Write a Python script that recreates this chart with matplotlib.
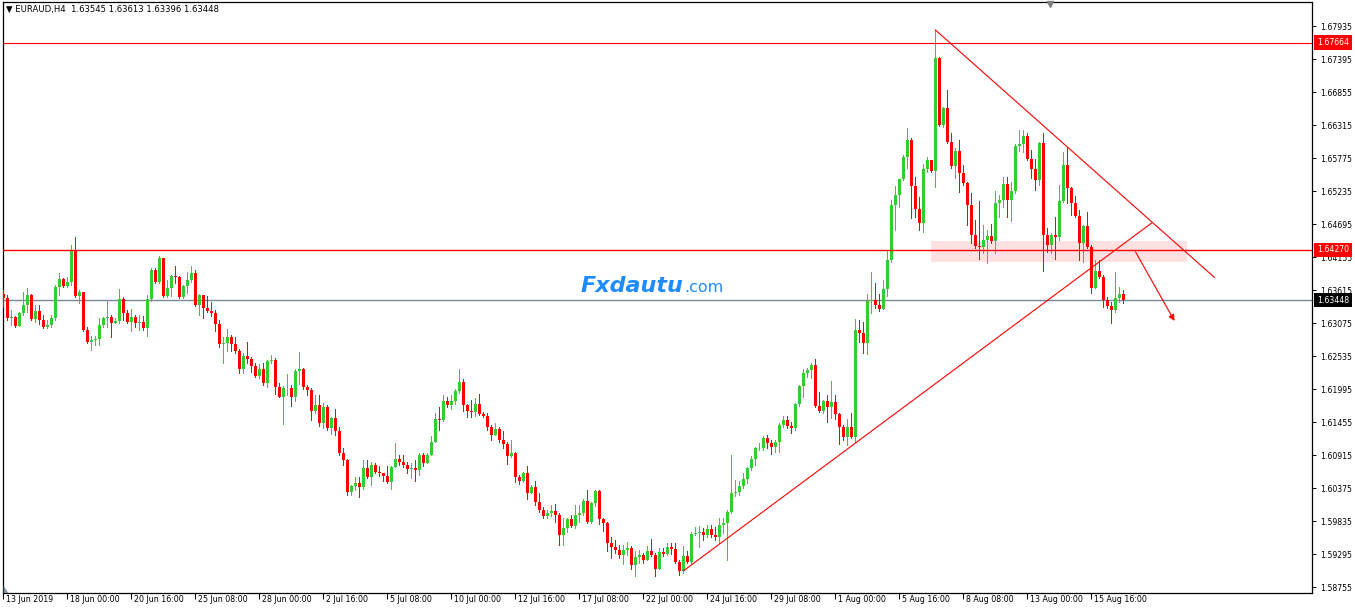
import numpy as np
import matplotlib
matplotlib.use("Agg")
import matplotlib.pyplot as plt
from matplotlib.patches import Rectangle, Polygon
import matplotlib.transforms as mtransforms

plt.rcParams['font.family'] = ['DejaVu Sans']

symbol = "EURAUD,H4"
last_ohlc = [1.63545, 1.63613, 1.63396, 1.63448]
first_open = 1.6355

close = [
    1.6348, 1.6316, 1.6317, 1.6302, 1.6324, 1.6337, 1.6353, 1.6314, 1.6327, 1.6312,
    1.6301, 1.6304, 1.6316, 1.6366, 1.6379, 1.6368, 1.6374, 1.6425, 1.6352, 1.6358,
    1.6296, 1.6276, 1.6280, 1.6281, 1.6304, 1.6316, 1.6317, 1.6307, 1.6311, 1.6347,
    1.6324, 1.6309, 1.6317, 1.6307, 1.6309, 1.6299, 1.6347, 1.6394, 1.6374, 1.6414,
    1.6352, 1.6365, 1.6384, 1.6383, 1.6350, 1.6368, 1.6378, 1.6389, 1.6337, 1.6353,
    1.6332, 1.6327, 1.6324, 1.6306, 1.6273, 1.6275, 1.6284, 1.6273, 1.6262, 1.6232,
    1.6253, 1.6249, 1.6237, 1.6221, 1.6232, 1.6209, 1.6245, 1.6247, 1.6203, 1.6186,
    1.6201, 1.6201, 1.6186, 1.6229, 1.6232, 1.6203, 1.6198, 1.6163, 1.6173, 1.6144,
    1.6170, 1.6136, 1.6152, 1.6131, 1.6095, 1.6083, 1.6031, 1.6041, 1.6046, 1.6039,
    1.6070, 1.6056, 1.6075, 1.6064, 1.6062, 1.6057, 1.6047, 1.6072, 1.6085, 1.6080,
    1.6075, 1.6068, 1.6070, 1.6067, 1.6091, 1.6078, 1.6091, 1.6113, 1.6151, 1.6149,
    1.6180, 1.6173, 1.6180, 1.6196, 1.6211, 1.6173, 1.6163, 1.6162, 1.6175, 1.6159,
    1.6155, 1.6137, 1.6124, 1.6134, 1.6116, 1.6109, 1.6090, 1.6095, 1.6056, 1.6049,
    1.6062, 1.6029, 1.6039, 1.6014, 1.6001, 1.5992, 1.5997, 1.6000, 1.5993, 1.5961,
    1.5972, 1.5987, 1.5975, 1.5993, 1.5997, 1.6016, 1.5982, 1.6013, 1.6032, 1.5987,
    1.5980, 1.5947, 1.5941, 1.5936, 1.5928, 1.5936, 1.5939, 1.5911, 1.5925, 1.5928,
    1.5920, 1.5934, 1.5928, 1.5905, 1.5933, 1.5929, 1.5941, 1.5937, 1.5916, 1.5902,
    1.5926, 1.5916, 1.5962, 1.5964, 1.5966, 1.5961, 1.5970, 1.5961, 1.5957, 1.5977,
    1.5980, 1.5998, 1.6029, 1.6031, 1.6041, 1.6052, 1.6070, 1.6085, 1.6103, 1.6103,
    1.6119, 1.6111, 1.6105, 1.6113, 1.6141, 1.6149, 1.6139, 1.6136, 1.6175, 1.6204,
    1.6226, 1.6230, 1.6239, 1.6172, 1.6163, 1.6180, 1.6170, 1.6178, 1.6159, 1.6137,
    1.6121, 1.6137, 1.6121, 1.6296, 1.6291, 1.6275, 1.6343, 1.6345, 1.6337, 1.6330,
    1.6363, 1.6410, 1.6500, 1.6517, 1.6543, 1.6579, 1.6607, 1.6531, 1.6494, 1.6471,
    1.6559, 1.6574, 1.6556, 1.6741, 1.6631, 1.6659, 1.6604, 1.6564, 1.6589, 1.6553,
    1.6536, 1.6500, 1.6451, 1.6433, 1.6432, 1.6443, 1.6450, 1.6442, 1.6504, 1.6509,
    1.6535, 1.6509, 1.6523, 1.6597, 1.6600, 1.6613, 1.6576, 1.6559, 1.6541, 1.6602,
    1.6451, 1.6435, 1.6451, 1.6448, 1.6507, 1.6566, 1.6528, 1.6504, 1.6482, 1.6438,
    1.6466, 1.6432, 1.6365, 1.6392, 1.6383, 1.6345, 1.6335, 1.6329, 1.6348, 1.63545,
    1.63448,
]

high = [
    1.6361, 1.6353, 1.6329, 1.6319, 1.6325, 1.6358, 1.6365, 1.6355, 1.6337, 1.6337,
    1.6320, 1.6312, 1.6320, 1.6370, 1.6389, 1.6381, 1.6383, 1.6435, 1.6448, 1.6361,
    1.6358, 1.6301, 1.6286, 1.6286, 1.6316, 1.6317, 1.6345, 1.6320, 1.6316, 1.6363,
    1.6350, 1.6329, 1.6330, 1.6320, 1.6320, 1.6319, 1.6353, 1.6397, 1.6397, 1.6417,
    1.6399, 1.6378, 1.6386, 1.6401, 1.6384, 1.6370, 1.6391, 1.6401, 1.6394, 1.6355,
    1.6353, 1.6352, 1.6342, 1.6329, 1.6312, 1.6284, 1.6298, 1.6288, 1.6284, 1.6265,
    1.6258, 1.6276, 1.6252, 1.6242, 1.6240, 1.6242, 1.6247, 1.6255, 1.6250, 1.6209,
    1.6204, 1.6224, 1.6206, 1.6232, 1.6260, 1.6234, 1.6206, 1.6201, 1.6190, 1.6190,
    1.6176, 1.6173, 1.6154, 1.6167, 1.6137, 1.6103, 1.6085, 1.6042, 1.6056, 1.6056,
    1.6083, 1.6083, 1.6080, 1.6078, 1.6073, 1.6062, 1.6073, 1.6073, 1.6111, 1.6091,
    1.6091, 1.6080, 1.6078, 1.6083, 1.6095, 1.6095, 1.6095, 1.6123, 1.6160, 1.6170,
    1.6190, 1.6186, 1.6190, 1.6199, 1.6232, 1.6216, 1.6175, 1.6181, 1.6185, 1.6191,
    1.6162, 1.6160, 1.6141, 1.6144, 1.6137, 1.6131, 1.6113, 1.6116, 1.6096, 1.6059,
    1.6064, 1.6073, 1.6042, 1.6049, 1.6029, 1.6007, 1.6001, 1.6010, 1.6011, 1.5997,
    1.5988, 1.5988, 1.5993, 1.6010, 1.6010, 1.6019, 1.6034, 1.6014, 1.6034, 1.6034,
    1.5988, 1.5982, 1.5957, 1.5952, 1.5944, 1.5944, 1.5949, 1.5942, 1.5934, 1.5936,
    1.5931, 1.5942, 1.5954, 1.5931, 1.5939, 1.5939, 1.5947, 1.5947, 1.5947, 1.5920,
    1.5942, 1.5934, 1.5966, 1.5974, 1.5975, 1.5972, 1.5977, 1.5977, 1.5974, 1.5988,
    1.5988, 1.6001, 1.6091, 1.6051, 1.6049, 1.6062, 1.6072, 1.6090, 1.6105, 1.6111,
    1.6123, 1.6124, 1.6116, 1.6116, 1.6144, 1.6155, 1.6155, 1.6146, 1.6176, 1.6206,
    1.6232, 1.6234, 1.6242, 1.6249, 1.6195, 1.6181, 1.6190, 1.6213, 1.6190, 1.6160,
    1.6141, 1.6151, 1.6160, 1.6314, 1.6312, 1.6309, 1.6355, 1.6391, 1.6373, 1.6355,
    1.6378, 1.6427, 1.6509, 1.6531, 1.6544, 1.6582, 1.6626, 1.6610, 1.6546, 1.6513,
    1.6567, 1.6580, 1.6564, 1.6787, 1.6743, 1.6661, 1.6689, 1.6618, 1.6594, 1.6607,
    1.6566, 1.6538, 1.6520, 1.6476, 1.6507, 1.6468, 1.6460, 1.6469, 1.6523, 1.6517,
    1.6546, 1.6546, 1.6538, 1.6600, 1.6623, 1.6623, 1.6618, 1.6590, 1.6576, 1.6604,
    1.6618, 1.6463, 1.6455, 1.6481, 1.6533, 1.6587, 1.6594, 1.6530, 1.6515, 1.6492,
    1.6468, 1.6489, 1.6435, 1.6410, 1.6410, 1.6386, 1.6350, 1.6342, 1.6391, 1.6366,
    1.63613,
]

low = [
    1.6334, 1.6312, 1.6304, 1.6301, 1.6302, 1.6320, 1.6325, 1.6312, 1.6309, 1.6306,
    1.6299, 1.6299, 1.6301, 1.6312, 1.6353, 1.6366, 1.6366, 1.6370, 1.6350, 1.6340,
    1.6294, 1.6275, 1.6263, 1.6271, 1.6271, 1.6301, 1.6301, 1.6284, 1.6307, 1.6307,
    1.6312, 1.6307, 1.6294, 1.6301, 1.6296, 1.6296, 1.6286, 1.6343, 1.6373, 1.6373,
    1.6350, 1.6350, 1.6352, 1.6373, 1.6348, 1.6348, 1.6357, 1.6374, 1.6335, 1.6320,
    1.6316, 1.6325, 1.6319, 1.6294, 1.6268, 1.6242, 1.6262, 1.6262, 1.6258, 1.6226,
    1.6226, 1.6242, 1.6227, 1.6219, 1.6218, 1.6206, 1.6203, 1.6242, 1.6191, 1.6186,
    1.6142, 1.6190, 1.6172, 1.6180, 1.6208, 1.6199, 1.6190, 1.6149, 1.6160, 1.6139,
    1.6136, 1.6132, 1.6126, 1.6124, 1.6091, 1.6075, 1.6026, 1.6026, 1.6034, 1.6023,
    1.6036, 1.6054, 1.6042, 1.6062, 1.6057, 1.6049, 1.6046, 1.6036, 1.6072, 1.6075,
    1.6072, 1.6062, 1.6054, 1.6049, 1.6059, 1.6073, 1.6080, 1.6091, 1.6113, 1.6132,
    1.6147, 1.6170, 1.6167, 1.6175, 1.6193, 1.6163, 1.6154, 1.6154, 1.6155, 1.6157,
    1.6154, 1.6132, 1.6116, 1.6124, 1.6113, 1.6103, 1.6077, 1.6088, 1.6047, 1.6044,
    1.6047, 1.6019, 1.6031, 1.6010, 1.5998, 1.5988, 1.5988, 1.5992, 1.5982, 1.5944,
    1.5944, 1.5966, 1.5974, 1.5972, 1.5982, 1.5993, 1.5980, 1.5980, 1.6008, 1.5979,
    1.5967, 1.5934, 1.5923, 1.5931, 1.5923, 1.5913, 1.5928, 1.5905, 1.5893, 1.5915,
    1.5915, 1.5920, 1.5926, 1.5893, 1.5905, 1.5926, 1.5928, 1.5929, 1.5915, 1.5895,
    1.5898, 1.5915, 1.5915, 1.5961, 1.5941, 1.5952, 1.5957, 1.5957, 1.5952, 1.5947,
    1.5964, 1.5920, 1.5997, 1.6024, 1.6026, 1.6037, 1.6046, 1.6067, 1.6075, 1.6100,
    1.6100, 1.6103, 1.6093, 1.6096, 1.6096, 1.6137, 1.6136, 1.6128, 1.6132, 1.6172,
    1.6186, 1.6219, 1.6218, 1.6170, 1.6162, 1.6160, 1.6146, 1.6152, 1.6151, 1.6109,
    1.6116, 1.6108, 1.6119, 1.6113, 1.6276, 1.6258, 1.6257, 1.6324, 1.6332, 1.6327,
    1.6332, 1.6352, 1.6407, 1.6459, 1.6497, 1.6541, 1.6562, 1.6479, 1.6481, 1.6460,
    1.6456, 1.6554, 1.6554, 1.6530, 1.6630, 1.6628, 1.6602, 1.6561, 1.6545, 1.6522,
    1.6533, 1.6468, 1.6438, 1.6430, 1.6412, 1.6422, 1.6405, 1.6438, 1.6422, 1.6481,
    1.6497, 1.6481, 1.6474, 1.6520, 1.6589, 1.6587, 1.6574, 1.6545, 1.6525, 1.6533,
    1.6392, 1.6424, 1.6422, 1.6412, 1.6443, 1.6505, 1.6504, 1.6484, 1.6481, 1.6410,
    1.6407, 1.6430, 1.6357, 1.6365, 1.6381, 1.6334, 1.6332, 1.6307, 1.6325, 1.6342,
    1.63396,
]

date_labels = ["13 Jun 2019", "18 Jun 00:00", "20 Jun 16:00", "25 Jun 08:00",
               "28 Jun 00:00", "2 Jul 16:00", "5 Jul 08:00", "10 Jul 00:00",
               "12 Jul 16:00", "17 Jul 08:00", "22 Jul 00:00", "24 Jul 16:00",
               "29 Jul 08:00", "1 Aug 00:00", "5 Aug 16:00", "8 Aug 08:00",
               "13 Aug 00:00", "15 Aug 16:00"]
date_bar_index = [0, 16, 32, 48, 64, 80, 96, 112, 128, 144, 160, 176, 192,
                  208, 224, 240, 256, 272]

price_ticks = [1.58755, 1.59295, 1.59835, 1.60375, 1.60915, 1.61455, 1.61995,
               1.62535, 1.63075, 1.63615, 1.64155, 1.64695, 1.65235, 1.65775,
               1.66315, 1.66855, 1.67395, 1.67935]

level_top = 1.67664
level_mid = 1.64270
bid_level = 1.63448
zone_bars = (232, 296)
zone_prices = (1.6407, 1.6442)
uptrend = [(170, 1.5902), (287, 1.6471)]
downtrend = [(233, 1.6787), (302.75, 1.6382)]
arrow_pts = [(283, 1.6424), (292.75, 1.6311)]

# ---------------------------------------------------------------
W, H = 1355, 609
fig = plt.figure(figsize=(W / 100, H / 100), dpi=100)
fig.patch.set_facecolor('white')
left_px, right_px, top_px, bottom_px = 3, 1312, 2, 593
ax = fig.add_axes([left_px / W, 1 - bottom_px / H,
                   (right_px - left_px) / W, (bottom_px - top_px) / H])
ax.set_facecolor('white')

c = np.array(close)
hgh = np.array(high)
lw_ = np.array(low)
o = np.r_[first_open, c[:-1]]
n = len(c)
idx = np.arange(n)
up = c >= o
cols = np.where(up, '#32CD32', '#FF0000')
hi = np.maximum(hgh, np.maximum(o, c))
lo = np.minimum(lw_, np.minimum(o, c))
body_lo = np.minimum(o, c)
body_h = np.maximum(np.abs(c - o), 0.00005)

ax.vlines(idx, lo, hi, colors=cols, linewidth=0.72, antialiased=False, zorder=3)
ax.bar(idx, body_h, bottom=body_lo, width=0.55, color=cols, linewidth=0,
       antialiased=False, zorder=4)

# zone rectangle
ax.add_patch(Rectangle((zone_bars[0], zone_prices[0]), zone_bars[1] - zone_bars[0],
                       zone_prices[1] - zone_prices[0], facecolor='#FFE1E1',
                       edgecolor='none', zorder=1))

# horizontal levels
ax.axhline(level_top, color='#FF0000', lw=0.8, zorder=5)
ax.axhline(level_mid, color='#FF0000', lw=1.0, zorder=5)
ax.axhline(bid_level, color='#778899', lw=1.0, zorder=2)

# trend lines
ax.plot([uptrend[0][0], uptrend[1][0]], [uptrend[0][1], uptrend[1][1]],
        color='#FF0000', lw=0.8, zorder=5)
ax.plot([downtrend[0][0], downtrend[1][0]], [downtrend[0][1], downtrend[1][1]],
        color='#FF0000', lw=0.8, zorder=5)
ax.annotate('', xy=arrow_pts[1], xytext=arrow_pts[0],
            arrowprops=dict(arrowstyle='-|>', color='#FF0000', lw=0.8,
                            mutation_scale=9, shrinkA=0, shrinkB=0), zorder=5)

# limits
def px2price(y):
    return 1.68361 - 0.00016364 * y

ax.set_ylim(px2price(bottom_px), px2price(top_px))
ax.set_xlim(-0.1, (right_px - 3.5) / 4)

# axes styling
for s in ax.spines.values():
    s.set_color('black')
    s.set_linewidth(0.9)

ax.yaxis.tick_right()
ax.set_yticks(price_ticks)
ax.set_yticklabels([f'{v:.5f}' for v in price_ticks])
ax.tick_params(axis='y', direction='out', length=3, width=0.7, labelsize=5.6,
               pad=2.5, colors='black')

ax.set_xticks(date_bar_index)
ax.set_xticklabels(date_labels)
ax.tick_params(axis='x', direction='out', length=4, width=0.7, labelsize=5.7,
               pad=-2.6, colors='black')
offset = mtransforms.ScaledTranslation(2.5 / 100, 0, fig.dpi_scale_trans)
for lab in ax.get_xticklabels():
    lab.set_horizontalalignment('left')
    lab.set_transform(lab.get_transform() + offset)

# price boxes on the right axis
for val, fc in [(level_top, '#FF0000'), (level_mid, '#FF0000'), (bid_level, '#000000')]:
    ax.annotate(f'{val:.5f}', xy=(1.0, val), xycoords=('axes fraction', 'data'),
                xytext=(3.6, 0), textcoords='offset points', ha='left', va='center',
                fontsize=5.6, color='white',
                bbox=dict(boxstyle='square,pad=0.35', fc=fc, ec='none'),
                annotation_clip=False, zorder=10)

# header text
fig.text(6 / W, 1 - 9.5 / H,
         '\u25BC ' + symbol + '  ' + ' '.join(f'{v:.5f}' for v in last_ohlc),
         fontsize=6.15, va='center', ha='left', color='black')

# watermark
fig.text(581 / W, 1 - 292 / H, 'Fxdautu', fontsize=16, fontweight='bold',
         fontstyle='oblique', color='#1E8CFF', va='baseline', ha='left')
fig.text(684 / W, 1 - 292 / H, '.com', fontsize=11.5, color='#1E8CFF',
         va='baseline', ha='left')

# small chart-shift markers
ax.plot([(1050 - 3.5) / 4], [px2price(4)], marker='v', color='#808080',
        markersize=4, clip_on=False, zorder=6)
ax.add_patch(Polygon([(0.0005, 0.0), (0.0005, 0.012), (0.004, 0.0)],
                     closed=True, transform=ax.transAxes, facecolor='#8090A0',
                     edgecolor='none', zorder=6))

fig.savefig('out.png', dpi=100, facecolor='white')
